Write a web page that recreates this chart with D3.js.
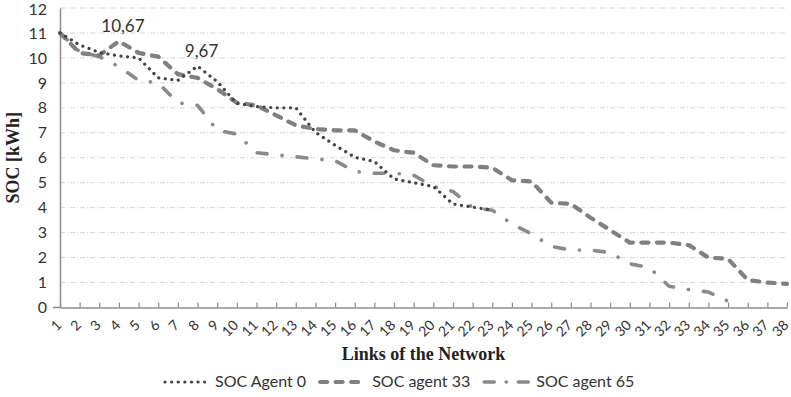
<!DOCTYPE html>
<html><head><meta charset="utf-8">
<script src="https://cdn.jsdelivr.net/npm/d3@7"></script>
<style>
body{margin:0;background:#fff;}
svg{display:block;}
</style></head>
<body>
<svg id="chart" width="791" height="397"></svg>
<script>
const categories = d3.range(1, 39).map(String);
const yTicks = [0,1,2,3,4,5,6,7,8,9,10,11,12];
const seriesNames = ["SOC Agent 0", "SOC agent 33", "SOC agent 65"];
const agent0 = [11, 10.52, 10.22, 10.08, 10.0, 9.2, 9.1, 9.67, 9.05, 8.18, 8.05, 8.0, 8.0, 7.02, 6.5, 6.02, 5.85, 5.15, 5.0, 4.85, 4.15, 4.02, 3.9];
const agent33 = [11, 10.2, 10.1, 10.67, 10.2, 10.05, 9.35, 9.2, 8.75, 8.2, 8.1, 7.7, 7.3, 7.15, 7.1, 7.1, 6.65, 6.3, 6.2, 5.7, 5.65, 5.65, 5.6, 5.1, 5.05, 4.2, 4.15, 3.6, 3.1, 2.6, 2.6, 2.6, 2.5, 2.0, 1.95, 1.1, 1.0, 0.95];
const agent65 = [11, 10.25, 10.05, 9.65, 9.1, 9.0, 8.2, 8.1, 7.1, 6.95, 6.2, 6.12, 6.04, 5.95, 5.88, 5.45, 5.38, 5.38, 5.3, 4.85, 4.65, 4.0, 3.9, 3.35, 2.95, 2.45, 2.3, 2.3, 2.2, 1.75, 1.6, 0.85, 0.72, 0.62, 0.25];
const dataLabels = [{series: 1, index: 3, text: "10,67"}, {series: 0, index: 7, text: "9,67"}];

const svg = d3.select("#chart");
const L = 60, R = 787, T = 8, B = 307.5;
const x = d3.scalePoint().domain(categories).range([L, R]);
const y = d3.scaleLinear().domain([0, 12]).range([B, T]);

// gridlines
svg.append("g").selectAll("line").data(yTicks.filter(d => d > 0)).join("line")
  .attr("x1", L).attr("x2", R).attr("y1", d => y(d)).attr("y2", d => y(d))
  .attr("stroke", "#d6d6d6").attr("stroke-width", 1).attr("stroke-dasharray", "5 2 1 2");

// y axis
const yAx = svg.append("g").attr("transform", `translate(${L},0)`)
  .call(d3.axisLeft(y).tickValues(yTicks).tickSize(0).tickPadding(13));
yAx.select(".domain").attr("stroke", "#8c8c8c").attr("stroke-width", 1.5);
yAx.selectAll("text").attr("font-family", "Lato, 'Open Sans', sans-serif").attr("font-size", 16).attr("fill", "#333");
yAx.selectAll(".tick").filter(d => d === 12).select("text").attr("dy", "0.42em");

// x axis
const xAx = svg.append("g").attr("transform", `translate(0,${B})`)
  .call(d3.axisBottom(x).tickSizeInner(-5).tickSizeOuter(0).tickFormat(""));
xAx.select(".domain").attr("stroke", "#8c8c8c").attr("stroke-width", 1.5);
xAx.selectAll(".tick line").attr("stroke", "#8c8c8c").attr("stroke-width", 1.2);
svg.append("line").attr("x1", L - 7).attr("x2", L).attr("y1", B).attr("y2", B)
  .attr("stroke", "#8c8c8c").attr("stroke-width", 1.5);

// rotated x labels
svg.append("g").selectAll("text").data(categories).join("text")
  .attr("transform", d => `translate(${x(d) - 1},${B + 15}) rotate(-45)`)
  .attr("text-anchor", "end").attr("dy", "0.35em")
  .attr("font-family", "Lato, 'Open Sans', sans-serif").attr("font-size", 14).attr("fill", "#333")
  .text(d => d);

// series
const styles = [
  {data: agent0, color: "#444444", width: 3.2, dash: "0.1 6.5", cap: "round"},
  {data: agent33, color: "#808080", width: 4.2, dash: "7 8.5", cap: "round"},
  {data: agent65, color: "#8a8a8a", width: 3.6, dash: "10 15 0.1 15", cap: "round"}
];
const line = d3.line().x((d, i) => x(categories[i])).y(d => y(d)).curve(d3.curveLinear);
const drawOrder = [2, 1, 0];
drawOrder.forEach(k => {
  const s = styles[k];
  svg.append("path").datum(s.data).attr("d", line)
    .attr("fill", "none").attr("stroke", s.color).attr("stroke-width", s.width)
    .attr("stroke-dasharray", s.dash).attr("stroke-linecap", s.cap).attr("stroke-linejoin", "round");
});

// data labels
const seriesData = [agent0, agent33, agent65];
svg.append("g").selectAll("text").data(dataLabels).join("text")
  .attr("x", d => x(categories[d.index]) + 4)
  .attr("y", d => y(seriesData[d.series][d.index]) - 9)
  .attr("text-anchor", "middle")
  .attr("font-family", "Lato, 'Open Sans', sans-serif").attr("font-size", 17).attr("fill", "#333")
  .text(d => d.text);

// axis titles
svg.append("text").attr("x", (L + R) / 2).attr("y", 360).attr("text-anchor", "middle")
  .attr("font-family", "'Liberation Serif', 'Times New Roman', serif").attr("font-weight", "bold")
  .attr("font-size", 18).attr("fill", "#222").text("Links of the Network");
svg.append("text").attr("transform", `translate(19,${(T + B) / 2}) rotate(-90)`).attr("text-anchor", "middle")
  .attr("font-family", "'Liberation Serif', 'Times New Roman', serif").attr("font-weight", "bold")
  .attr("font-size", 18).attr("fill", "#222").text("SOC [kWh]");

// legend
const lg = svg.append("g");
let lx = 163;
const ly = 387;
seriesNames.forEach((name, k) => {
  const s = styles[k];
  const sw = k === 0 ? 48 : 50;
  lg.append("line").attr("x1", lx + 2).attr("x2", lx + sw - 2).attr("y1", ly - 5).attr("y2", ly - 5)
    .attr("stroke", s.color).attr("stroke-width", s.width)
    .attr("stroke-dasharray", k === 2 ? "10 12 0.1 12" : s.dash).attr("stroke-linecap", s.cap);
  const t = lg.append("text").attr("x", lx + sw + 4).attr("y", ly)
    .attr("font-family", "Lato, 'Open Sans', sans-serif").attr("font-size", 16).attr("fill", "#333").text(name);
  lx += sw + 4 + t.node().getComputedTextLength() + 12;
});
</script>
</body></html>
